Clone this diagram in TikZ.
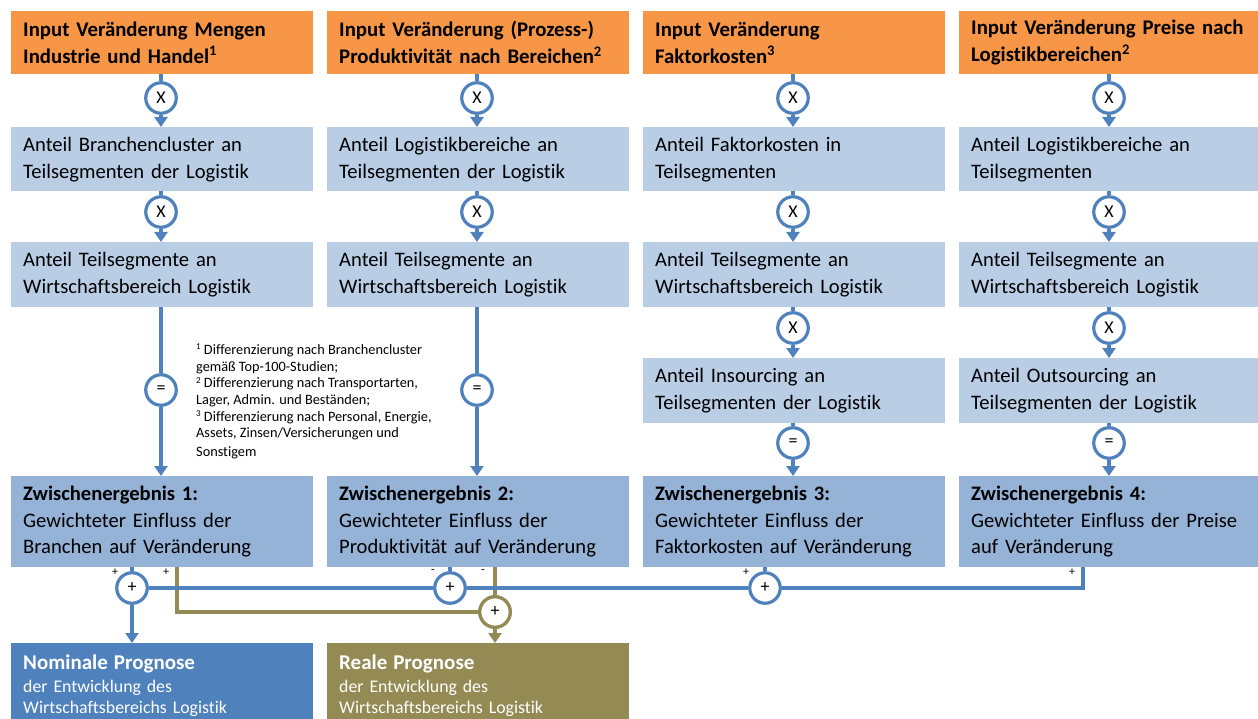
\documentclass[tikz,border=0pt]{standalone}
\usepackage{fontspec}
\setmainfont{Carlito}[Ligatures=NoCommon]
\usetikzlibrary{arrows.meta}
\definecolor{orng}{HTML}{F79646}
\definecolor{lblue}{HTML}{B9CDE5}
\definecolor{mblue}{HTML}{95B3D7}
\definecolor{lineblue}{HTML}{4F81BD}
\definecolor{gold}{HTML}{948A54}
\newcommand{\fnmark}[1]{\raisebox{0.33em}{\fontsize{9}{9}\selectfont #1}}
\begin{document}
\begin{tikzpicture}[x=1pt,y=-1pt,
  box/.style={anchor=north west, minimum width=302pt, text width=278pt, inner xsep=12pt, inner ysep=0pt, align=left, text=black},
  hdr/.style={box, fill=orng, minimum height=63pt, font=\fontsize{20.8}{27}\selectfont\bfseries},
  lbox/.style={box, fill=lblue, minimum height=64pt, font=\fontsize{20.6}{27}\selectfont},
  zbox/.style={box, fill=mblue, minimum height=91pt, font=\fontsize{20.6}{26.5}\selectfont},
  op/.style={circle, draw=lineblue, line width=3.2pt, fill=white, minimum size=30.5pt, inner sep=0pt, font=\fontsize{18}{18}\selectfont},
  gop/.style={op, draw=gold},
  flow/.style={draw=lineblue, line width=3.2pt},
  arr/.style={flow, -{Triangle[width=13pt,length=10pt]}},
  goldl/.style={draw=gold, line width=3.2pt},
  goldarr/.style={goldl, -{Triangle[width=13pt,length=10pt]}},
  sgn/.style={inner sep=0pt, font=\fontsize{12}{12}\selectfont},
  note/.style={anchor=north west, inner sep=0pt, align=left, font=\fontsize{14.3}{16.6}\selectfont},
  result/.style={anchor=north west, minimum width=302pt, minimum height=84pt, text width=278pt, inner xsep=12pt, inner ysep=0pt, align=left, text=white, font=\fontsize{17.8}{21}\selectfont}
]
\useasboundingbox (0,0) rectangle (1258,719);

% headers
\node[hdr] (h1) at (11,11) {Input Veränderung Mengen\\Industrie und Handel\textsuperscript{1}};
\node[hdr] (h2) at (327,11) {Input Veränderung (Prozess-)\\Produktivität nach Bereichen\textsuperscript{2}};
\node[hdr] (h3) at (643,11) {Input Veränderung\\Faktorkosten\textsuperscript{3}};
\node[hdr] (h4) at (959,11) {Input Veränderung Preise nach\\Logistikbereichen\textsuperscript{2}};

% row 2
\node[lbox] (a1) at (11,127) {Anteil Branchencluster an\\Teilsegmenten der Logistik};
\node[lbox] (a2) at (327,127) {Anteil Logistikbereiche an\\Teilsegmenten der Logistik};
\node[lbox] (a3) at (643,127) {Anteil Faktorkosten in\\Teilsegmenten};
\node[lbox] (a4) at (959,127) {Anteil Logistikbereiche an\\Teilsegmenten};

% row 3
\node[lbox, minimum height=65pt] (b1) at (11,242) {Anteil Teilsegmente an\\Wirtschaftsbereich Logistik};
\node[lbox, minimum height=65pt] (b2) at (327,242) {Anteil Teilsegmente an\\Wirtschaftsbereich Logistik};
\node[lbox, minimum height=65pt] (b3) at (643,242) {Anteil Teilsegmente an\\Wirtschaftsbereich Logistik};
\node[lbox, minimum height=65pt] (b4) at (959,242) {Anteil Teilsegmente an\\Wirtschaftsbereich Logistik};

% row 4 (cols 3,4)
\node[lbox, minimum height=65pt] (c3) at (643,358) {Anteil Insourcing an\\Teilsegmenten der Logistik};
\node[lbox, minimum height=65pt] (c4) at (959,358) {Anteil Outsourcing an\\Teilsegmenten der Logistik};

% intermediate results
\node[zbox] (z1) at (11,476) {\textbf{Zwischenergebnis 1:}\\Gewichteter Einfluss der\\Branchen auf Veränderung};
\node[zbox] (z2) at (327,476) {\textbf{Zwischenergebnis 2:}\\Gewichteter Einfluss der\\Produktivität auf Veränderung};
\node[zbox] (z3) at (643,476) {\textbf{Zwischenergebnis 3:}\\Gewichteter Einfluss der\\Faktorkosten auf Veränderung};
\node[zbox] (z4) at (959,476) {\textbf{Zwischenergebnis 4:}\\Gewichteter Einfluss der Preise\\auf Veränderung};

% final results
\node[result, fill=lineblue] (nom) at (11,643) {{\fontsize{21}{24}\selectfont\bfseries Nominale Prognose}\\[2pt]der Entwicklung des\\Wirtschaftsbereichs Logistik};
\node[result, fill=gold] (real) at (327,643) {{\fontsize{21}{24}\selectfont\bfseries Reale Prognose}\\[2pt]der Entwicklung des\\Wirtschaftsbereichs Logistik};

% footnotes
\node[note] (fn) at (196,344) {\fnmark{1} Differenzierung nach Branchencluster\\gemäß Top-100-Studien;\\\fnmark{2} Differenzierung nach Transportarten,\\Lager, Admin. und Beständen;\\\fnmark{3} Differenzierung nach Personal, Energie,\\Assets, Zinsen/Versicherungen und\\[2pt]Sonstigem};

% operator circles
\foreach \i/\cx in {1/161,2/477,3/793,4/1109} {
  \node[op] (m\i) at (\cx,98) {X};
  \node[op] (n\i) at (\cx,212) {X};
}
\node[op] (e1) at (161,390) {=};
\node[op] (e2) at (477,390) {=};
\node[op] (k3) at (793,328) {X};
\node[op] (k4) at (1109,328) {X};
\node[op] (e3) at (793,443) {=};
\node[op] (e4) at (1109,443) {=};

% vertical flows
\foreach \i in {1,2,3,4} {
  \draw[flow] (h\i.south -| m\i) -- (m\i);
  \draw[arr] (m\i) -- (m\i |- a\i.north);
  \draw[flow] (a\i.south -| n\i) -- (n\i);
  \draw[arr] (n\i) -- (n\i |- b\i.north);
}
\foreach \i in {1,2} {
  \draw[flow] (b\i.south -| e\i) -- (e\i);
  \draw[arr] (e\i) -- (e\i |- z\i.north);
}
\foreach \i in {3,4} {
  \draw[flow] (b\i.south -| k\i) -- (k\i);
  \draw[arr] (k\i) -- (k\i |- c\i.north);
  \draw[flow] (c\i.south -| e\i) -- (e\i);
  \draw[arr] (e\i) -- (e\i |- z\i.north);
}

% bottom sums
\coordinate (g1) at (177,612);
\coordinate (cr) at (1083,588);
\node[gop] (gs) at (495,612) {+};
\draw[goldl] (z1.south -| g1) -- (g1) -- (gs);
\draw[goldl] (z2.south -| gs) -- (gs);
\draw[goldarr] (gs) -- (gs |- real.north);

\node[op] (s1) at (132,588) {+};
\node[op] (s2) at (450,588) {+};
\node[op] (s3) at (765,588) {+};
\draw[flow] (z1.south -| s1) -- (s1);
\draw[flow] (z2.south -| s2) -- (s2);
\draw[flow] (z3.south -| s3) -- (s3);
\draw[flow] (s1) -- (s2);
\draw[flow] (s2) -- (s3);
\draw[flow, line join=miter] (s3) -- (cr) -- (z4.south -| cr);
\draw[arr] (s1) -- (s1 |- nom.north);
\node[gop] at (gs) {+};

% signs
\node[sgn] (p1) at (115,572) {+};
\node[sgn] (p2) at (166,572) {+};
\node[sgn] (p3) at (433,572) {-};
\node[sgn] (p4) at (483,572) {-};
\node[sgn] (p5) at (746,572) {+};
\node[sgn] (p6) at (1072,572) {+};
\end{tikzpicture}
\end{document}
